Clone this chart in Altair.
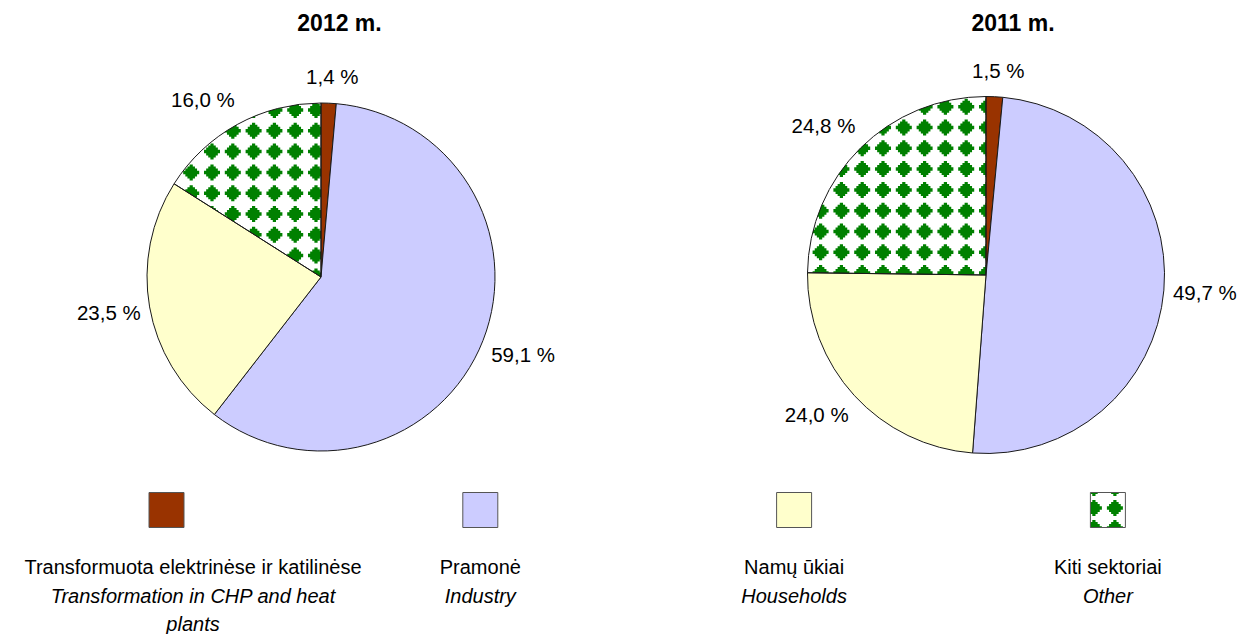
import math
import altair as alt
import pandas as pd

# ---------------- data ----------------
years = ["2012", "2011"]
cats_lt = ["Transformuota elektrinėse ir katilinėse", "Pramonė", "Namų ūkiai", "Kiti sektoriai"]
cats_en = ["Transformation in CHP and heat\nplants", "Industry", "Households", "Other"]
values_2012 = [1.4, 59.1, 23.5, 16.0]
values_2011 = [1.5, 49.7, 24.0, 24.8]

# ---------------- style ----------------
colors = ["#993300", "#CCCCFF", "#FFFFCC", "#FFFFFF"]
pattern_green = "#008000"
FONT = "Liberation Sans"
W, H = 1238, 626

PIES = {
    "2012": dict(values=values_2012, cx=313, cy=269, r=174, title_x=331.5, phase=(-5.0, -0.6)),
    "2011": dict(values=values_2011, cx=978, cy=267, r=178.5, title_x=1005, phase=(1.0, -1.9)),
}
LABEL_GAP, LABEL_HW, LABEL_HH = 13, 28, 12

# stepped-diamond dot of the hatch pattern (unit coordinates)
DOT = ("M-0.2,-1L0.2,-1L0.2,-0.75L0.47,-0.75L0.47,-0.5L0.73,-0.5L0.73,-0.22L1,-0.22"
       "L1,0.22L0.73,0.22L0.73,0.5L0.47,0.5L0.47,0.75L0.2,0.75L0.2,1L-0.2,1L-0.2,0.75"
       "L-0.47,0.75L-0.47,0.5L-0.73,0.5L-0.73,0.22L-1,0.22L-1,-0.22L-0.73,-0.22L-0.73,-0.5"
       "L-0.47,-0.5L-0.47,-0.75L-0.2,-0.75Z")
DOT_SIZE = 256
STEP = 20.8
HALF = 8.0


def fmt(v):
    return f"{v:.1f}".replace(".", ",") + " %"


def ray_dist(dx, dy, a):
    ux, uy = math.sin(a), -math.cos(a)
    t = dx * ux + dy * uy
    if t <= 0:
        return math.hypot(dx, dy)
    return abs(dx * uy - dy * ux)


def wedge_dots(values, cx, cy, r, phase):
    """Texture grid of the patterned (last) slice."""
    total = sum(values)
    a0 = 2 * math.pi * sum(values[:-1]) / total
    a1 = 2 * math.pi
    pts = []
    for ky in range(-12, 13):
        for kx in range(-12, 13):
            dx = phase[0] + kx * STEP
            dy = phase[1] + ky * STEP
            d = math.hypot(dx, dy)
            if d > r + HALF:
                continue
            th = math.atan2(dx, -dy) % (2 * math.pi)
            if not (a0 <= th <= a1):
                if min(ray_dist(dx, dy, a0), ray_dist(dx, dy, a1)) > HALF:
                    continue
            pts.append((cx + dx, cy + dy))
    return pd.DataFrame(pts, columns=["px", "py"])


color_scale = alt.Scale(domain=cats_lt, range=colors)

layers = []
for year in years:
    p = PIES[year]
    cx, cy, r = p["cx"], p["cy"], p["r"]
    df = pd.DataFrame({
        "year": year,
        "i": list(range(len(cats_lt))),
        "cat": cats_lt,
        "value": p["values"],
        "label": [fmt(v) for v in p["values"]],
    })
    base = alt.Chart(df)

    dots = alt.Chart(wedge_dots(p["values"], cx, cy, r, p["phase"])).mark_point(
        shape=DOT, filled=True, size=DOT_SIZE, opacity=1, color=pattern_green, strokeWidth=0
    ).encode(
        x=alt.X("px:Q", scale=None, axis=None),
        y=alt.Y("py:Q", scale=None, axis=None),
    )

    mask = base.transform_filter("datum.i == 0").mark_arc(
        theta=0, theta2=2 * math.pi, radius=r + 18, radius2=r, fill="white", strokeWidth=0
    ).encode(x=alt.value(cx), y=alt.value(cy))

    slices = base.mark_arc(radius=r, stroke="#1a1a1a", strokeWidth=1).encode(
        theta=alt.Theta("value:Q", stack=True),
        color=alt.Color("cat:N", scale=color_scale, legend=None),
        fillOpacity=alt.condition(alt.datum.i == 3, alt.value(0), alt.value(1)),
        order=alt.Order("i:Q"),
        x=alt.value(cx),
        y=alt.value(cy),
    )

    rg = r + LABEL_GAP
    labels = base.transform_joinaggregate(
        total="sum(value)"
    ).transform_window(
        cum="sum(value)", sort=[alt.SortField("i")], frame=[None, 0]
    ).transform_calculate(
        mid="2*PI*(datum.cum - datum.value/2)/datum.total"
    ).transform_calculate(
        lx=f"{cx} + {rg}*sin(datum.mid) + {LABEL_HW}*clamp(2.5*sin(datum.mid), -1, 1)",
        ly=f"{cy} - {rg}*cos(datum.mid) - {LABEL_HH}*clamp(2.5*cos(datum.mid), -1, 1)",
    ).mark_text(font=FONT, fontSize=20.5, color="black", baseline="middle", align="center").encode(
        x=alt.X("lx:Q", scale=None, axis=None),
        y=alt.Y("ly:Q", scale=None, axis=None),
        text="label:N",
    )

    title = alt.Chart(pd.DataFrame({"t": [f"{year} m."]})).mark_text(
        font=FONT, fontSize=23, fontWeight="bold", baseline="alphabetic", color="black"
    ).encode(text="t:N", x=alt.value(p["title_x"]), y=alt.value(22.5))

    layers += [dots, mask, slices, labels, title]

# ---------------- legend ----------------
LEG_X0, LEG_STEP, LEG_Y = 158.5, 313.8, 502
leg_df = pd.DataFrame({
    "i": list(range(len(cats_lt))),
    "cat": cats_lt,
    "en": cats_en,
})
leg_df["lx"] = LEG_X0 + leg_df["i"] * LEG_STEP
leg_df["tx"] = leg_df["lx"]
leg_df.loc[0, "tx"] = 185  # long first label kept inside the left edge

leg = alt.Chart(leg_df)
kx = LEG_X0 + 3 * LEG_STEP
leg_dots_df = pd.DataFrame(
    [(kx + ox, LEG_Y + oy) for ox in (-14, 7) for oy in (-22, -2, 18)],
    columns=["px", "py"],
)

sq_fill = leg.mark_point(shape="square", filled=True, size=1225, opacity=1, strokeWidth=0).encode(
    x=alt.X("lx:Q", scale=None, axis=None),
    y=alt.value(LEG_Y),
    color=alt.Color("cat:N", scale=color_scale, legend=None),
)
sq_dots = alt.Chart(leg_dots_df).mark_point(
    shape=DOT, filled=True, size=DOT_SIZE, opacity=1, color=pattern_green, strokeWidth=0
).encode(x=alt.X("px:Q", scale=None, axis=None), y=alt.Y("py:Q", scale=None, axis=None))
sq_mask = leg.transform_filter("datum.i == 3").mark_point(
    shape="square", filled=False, size=51 * 51, strokeWidth=16, stroke="white", opacity=1
).encode(x=alt.X("lx:Q", scale=None, axis=None), y=alt.value(LEG_Y))
sq_outline = leg.mark_point(
    shape="square", filled=False, size=1225, stroke="#555555", strokeWidth=1, opacity=1
).encode(x=alt.X("lx:Q", scale=None, axis=None), y=alt.value(LEG_Y))

txt_lt = leg.mark_text(font=FONT, fontSize=20, baseline="middle", color="black").encode(
    x=alt.X("tx:Q", scale=None, axis=None), y=alt.value(560), text="cat:N"
)
txt_en = leg.mark_text(
    font=FONT, fontSize=20, fontStyle="italic", baseline="alphabetic",
    lineBreak="\n", lineHeight=27.5, color="black"
).encode(x=alt.X("tx:Q", scale=None, axis=None), y=alt.value(595), text="en:N")

layers += [sq_fill, sq_dots, sq_mask, sq_outline, txt_lt, txt_en]

chart = alt.layer(*layers).properties(
    width=W, height=H, padding=0, autosize=alt.AutoSizeParams(type="none")
).configure_view(stroke=None)

chart.save("out.html", embed_options={"renderer": "svg", "actions": False})
